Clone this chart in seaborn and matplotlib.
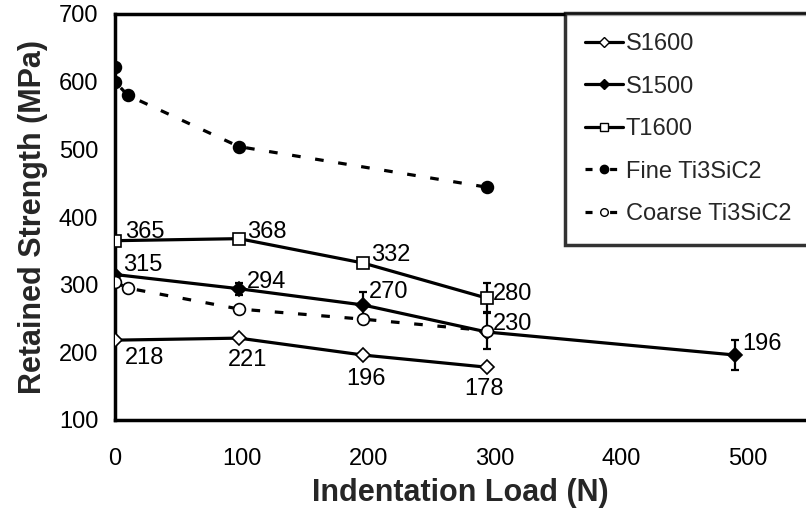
import matplotlib
matplotlib.use("Agg")
import matplotlib.pyplot as plt
import seaborn as sns
import pandas as pd
from matplotlib.lines import Line2D

sns.set_theme(style="white")
plt.rcParams['font.family'] = ['Liberation Sans', 'DejaVu Sans']

# ---- data ----
s1600_x = [0, 98, 196, 294]
s1600_y = [218, 221, 196, 178]

s1500_x = [0, 98, 196, 294, 490]
s1500_y = [315, 294, 270, 230, 196]
s1500_err = [0, 9, 19, 0, 22]

t1600_x = [0, 98, 196, 294]
t1600_y = [365, 368, 332, 280]
t1600_err = [0, 0, 0, 22]

fine_x = [0, 0, 10, 98, 294]
fine_y = [622, 600, 580, 504, 444]

coarse_x = [0, 10, 98, 196, 294]
coarse_y = [304, 295, 264, 249, 232]
coarse_err = [0, 0, 0, 0, 27]

names = ["S1600", "S1500", "T1600", "Fine Ti3SiC2", "Coarse Ti3SiC2"]
x_ticks = [0, 100, 200, 300, 400, 500]
y_ticks = [100, 200, 300, 400, 500, 600, 700]

# label offsets in points (position styling only)
s1600_off = [(7, -13), (-8, -16), (-12, -17), (-16.5, -16)]
s1500_off = [(6, 7), (6, 5), (4, 9), (4, 6), (5, 8)]
t1600_off = [(7, 6), (6, 5), (6, 6), (4, 3)]

fig = plt.figure(figsize=(8.06, 5.23), dpi=100)
ax = fig.add_axes([115/806, 1-420/523, 1-115/806, (420-14)/523])

lw = 2.3
dash = (0, (2.7, 4.6))

def draw(x, y, marker, mfc, ls, ms, z):
    df = pd.DataFrame({"x": x, "y": y})
    sns.lineplot(data=df, x="x", y="y", ax=ax, estimator=None, sort=False,
                 color="black", lw=lw, marker=marker, markersize=ms,
                 markerfacecolor=mfc, markeredgecolor="black",
                 markeredgewidth=1.2, linestyle=ls, zorder=z)

draw(s1600_x, s1600_y, "D", "white", "-", 7.5, 3)
draw(s1500_x, s1500_y, "D", "black", "-", 7.5, 3)
draw(t1600_x, t1600_y, "s", "white", "-", 8.5, 3)
draw(fine_x, fine_y, "o", "black", dash, 8.5, 4)
draw(coarse_x, coarse_y, "o", "white", dash, 8.5, 4)

def errs(x, y, e):
    xs = [a for a, b in zip(x, e) if b > 0]
    ys = [a for a, b in zip(y, e) if b > 0]
    es = [b for b in e if b > 0]
    ax.errorbar(xs, ys, yerr=es, fmt="none", ecolor="black", elinewidth=1.6,
                capsize=3, capthick=1.6, zorder=2)

errs(s1500_x, s1500_y, s1500_err)
errs(t1600_x, t1600_y, t1600_err)
errs(coarse_x, coarse_y, coarse_err)

fs = 17
def labels(x, y, offs):
    for xi, yi, (dx, dy) in zip(x, y, offs):
        ax.annotate(f"{yi}", (xi, yi), xytext=(dx, dy), textcoords="offset points",
                    ha="left", va="center", fontsize=fs, color="black", zorder=5)

labels(s1600_x, s1600_y, s1600_off)
labels(s1500_x, s1500_y, s1500_off)
labels(t1600_x, t1600_y, t1600_off)

ax.set_xlim(0, 546)
ax.set_ylim(100, 700)
ax.set_xticks(x_ticks)
ax.set_yticks(y_ticks)
ax.tick_params(axis="x", direction="out", length=5, width=2, pad=15, labelsize=fs, colors="black")
ax.tick_params(axis="y", direction="out", length=6, width=2, pad=6, labelsize=fs, colors="black")
ax.set_xlabel("Indentation Load (N)", fontsize=22, fontweight="bold", labelpad=6)
ax.set_ylabel("Retained Strength (MPa)", fontsize=22, fontweight="bold", labelpad=8)
for s in ["left", "bottom", "top"]:
    ax.spines[s].set_visible(True)
    ax.spines[s].set_color("black")
    ax.spines[s].set_linewidth(2.5)
ax.spines["right"].set_visible(False)

handles = [
    Line2D([], [], color="black", lw=lw, marker="D", mfc="white", mec="black", ms=5),
    Line2D([], [], color="black", lw=lw, marker="D", mfc="black", mec="black", ms=5),
    Line2D([], [], color="black", lw=lw, marker="s", mfc="white", mec="black", ms=5.5),
    Line2D([], [], color="black", lw=lw, ls=(0, (2.2, 5.5)), marker="o", mfc="black", mec="black", ms=6),
    Line2D([], [], color="black", lw=lw, ls=(0, (2.2, 5.5)), marker="o", mfc="white", mec="black", ms=5.5),
]
leg = fig.legend(handles, names, loc="upper left", bbox_to_anchor=(565/806, 1-13/523),
                 frameon=True, fancybox=False, fontsize=fs, handlelength=1.6,
                 handletextpad=0.13, labelspacing=0.87, borderpad=0.85, borderaxespad=0)
leg.get_frame().set_edgecolor("black")
leg.get_frame().set_linewidth(2.5)
leg.get_frame().set_facecolor("white")

fig.savefig("out.png", dpi=100)
